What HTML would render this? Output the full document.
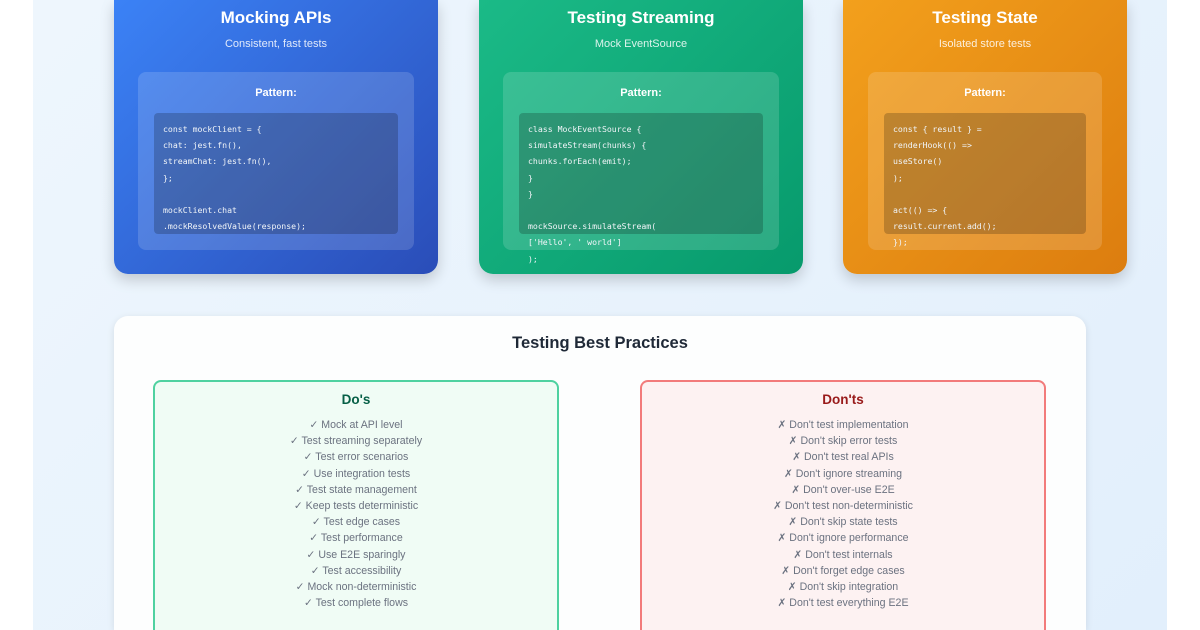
<!DOCTYPE html>
<html style="width:1200px;height:630px;overflow:hidden"><head><meta charset="utf-8"><style>
*{box-sizing:border-box;margin:0;padding:0}
body{width:1200px;height:630px;overflow:hidden;background:#fff;font-family:"Liberation Sans",sans-serif;position:relative}
.bg{position:absolute;left:33px;top:0;width:1134px;height:630px;background:linear-gradient(135deg,#eef6fd,#e2effc)}
.card{position:absolute;top:0;height:274px;border-radius:0 0 14px 14px;box-shadow:0 6px 14px rgba(0,0,0,.18);color:#fff;text-align:center}
.card h2{position:absolute;top:8px;left:0;right:0;font-size:17px;font-weight:bold}
.card .sub{position:absolute;top:38px;left:0;right:0;font-size:11px;opacity:.85}
.inner{position:absolute;top:72px;height:178px;border-radius:8px;background:rgba(255,255,255,.15)}
.inner .pt{position:absolute;top:15px;left:0;right:0;font-size:11px;font-weight:bold}
.code{position:absolute;top:41px;left:16px;right:16px;height:121px;border-radius:4px;background:rgba(0,0,0,.2);text-align:left;padding:8px 0 0 9px;font-family:"DejaVu Sans Mono","Liberation Mono",monospace;font-size:8.2px;line-height:16.2px;white-space:pre;color:#f1f5f9}
.panel{position:absolute;left:114px;top:316px;width:972px;height:314px;overflow:hidden;background:#fdfefe;border-radius:14px 14px 0 0;box-shadow:0 2px 8px rgba(0,0,0,.1)}
.panel h3{position:absolute;top:18px;left:0;right:0;text-align:center;font-size:16.5px;color:#1f2937}
.box{position:absolute;top:64px;width:406px;height:250px;border-radius:8px 8px 0 0;border:2px solid;border-bottom:none;text-align:center}
.box h4{margin-top:10px;font-size:13.5px}
.box ul{list-style:none;margin-top:10px;font-size:10.6px;line-height:16.2px;color:#6b7280}
</style></head><body>
<div class="bg"></div>
<div class="card" style="left:114px;width:324px;background:linear-gradient(135deg,#3b82f6,#2a4db8)">
<h2>Mocking APIs</h2><div class="sub">Consistent, fast tests</div>
<div class="inner" style="left:24px;width:276px"><div class="pt">Pattern:</div>
<div class="code">const mockClient = {
chat: jest.fn(),
streamChat: jest.fn(),
};

mockClient.chat
.mockResolvedValue(response);</div></div></div>
<div class="card" style="left:479px;width:324px;background:linear-gradient(135deg,#1bba87,#079a6c)">
<h2>Testing Streaming</h2><div class="sub">Mock EventSource</div>
<div class="inner" style="left:24px;width:276px"><div class="pt">Pattern:</div>
<div class="code" style="overflow:visible">class MockEventSource {
simulateStream(chunks) {
chunks.forEach(emit);
}
}

mockSource.simulateStream(
['Hello', ' world']
);</div></div></div>
<div class="card" style="left:843px;width:284px;background:linear-gradient(135deg,#f3a01c,#dc7d0f)">
<h2>Testing State</h2><div class="sub">Isolated store tests</div>
<div class="inner" style="left:25px;width:234px"><div class="pt">Pattern:</div>
<div class="code" style="overflow:visible">const { result } =
renderHook(() =>
useStore()
);

act(() => {
result.current.add();
});</div></div></div>
<div class="panel"><h3>Testing Best Practices</h3>
<div class="box" style="left:39px;border-color:#4fd1a0;background:#f0fcf5"><h4 style="color:#065f46">Do's</h4><ul>
<li>✓ Mock at API level</li><li>✓ Test streaming separately</li><li>✓ Test error scenarios</li><li>✓ Use integration tests</li><li>✓ Test state management</li><li>✓ Keep tests deterministic</li><li>✓ Test edge cases</li><li>✓ Test performance</li><li>✓ Use E2E sparingly</li><li>✓ Test accessibility</li><li>✓ Mock non-deterministic</li><li>✓ Test complete flows</li></ul></div>
<div class="box" style="left:526px;border-color:#f27b7b;background:#fdf2f2"><h4 style="color:#991b1b">Don'ts</h4><ul>
<li>✗ Don't test implementation</li><li>✗ Don't skip error tests</li><li>✗ Don't test real APIs</li><li>✗ Don't ignore streaming</li><li>✗ Don't over-use E2E</li><li>✗ Don't test non-deterministic</li><li>✗ Don't skip state tests</li><li>✗ Don't ignore performance</li><li>✗ Don't test internals</li><li>✗ Don't forget edge cases</li><li>✗ Don't skip integration</li><li>✗ Don't test everything E2E</li></ul></div>
</div>
</body></html>
